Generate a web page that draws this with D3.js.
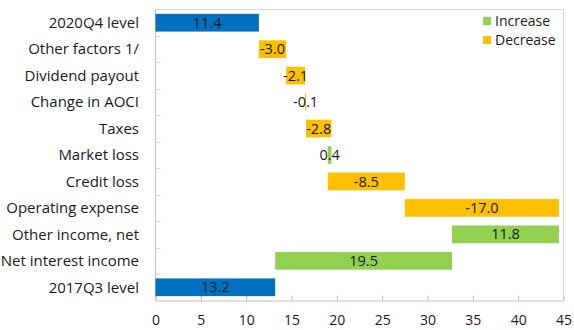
<!DOCTYPE html>
<html>
<head>
<meta charset="utf-8">
<script src="https://cdn.jsdelivr.net/npm/d3@7"></script>
<style>
  html, body { margin: 0; padding: 0; background: #fff; }
  svg { display: block; font-family: "Open Sans", "Noto Sans", sans-serif; }
</style>
</head>
<body>
<svg id="chart" width="574" height="330"></svg>
<script>
// Capital bridge, bottom row first
const categories = [
  "2017Q3 level", "Net interest income", "Other income, net", "Operating expense",
  "Credit loss", "Market loss", "Taxes", "Change in AOCI", "Dividend payout",
  "Other factors 1/", "2020Q4 level"
];
const changes = [13.2, 19.5, 11.8, -17.0, -8.5, 0.4, -2.8, -0.1, -2.1, -3.0, 11.4];
const isLevel = [true, false, false, false, false, false, false, false, false, false, true];
const xTicks = [0, 5, 10, 15, 20, 25, 30, 35, 40, 45];
const legendLabels = ["Increase", "Decrease"];

const colors = { level: "#0070C0", Increase: "#92D050", Decrease: "#FFC000" };

// Running total gives each bar's start and end
let running = 0;
const rows = categories.map((name, i) => {
  let x0, x1, kind;
  if (isLevel[i]) {
    x0 = 0; x1 = changes[i]; running = changes[i]; kind = "level";
  } else {
    x0 = running; x1 = running + changes[i]; running = x1;
    kind = changes[i] >= 0 ? "Increase" : "Decrease";
  }
  return { name, value: changes[i], x0, x1, kind };
});

const svg = d3.select("#chart");
const plot = { left: 155.5, right: 563.5, top: 9.5, bottom: 300.5 };

const x = d3.scaleLinear().domain([0, 45]).range([plot.left, plot.right]);
const y = d3.scaleBand()
  .domain(categories.slice().reverse())
  .range([plot.top, plot.bottom])
  .paddingInner(0.33)
  .paddingOuter(0.165);

// Frame on the top and right
svg.append("path")
  .attr("d", `M${plot.left},${plot.top}H${plot.right}V${plot.bottom}`)
  .attr("fill", "none").attr("stroke", "#d9d9d9");

// Bottom axis: ticks pointing into the plot, labels below
const xAxis = svg.append("g").attr("transform", `translate(0,${plot.bottom})`)
  .call(d3.axisBottom(x).tickValues(xTicks).tickSizeInner(-5).tickSizeOuter(0).tickPadding(15));
xAxis.select(".domain").attr("stroke", "#bfbfbf");
xAxis.selectAll(".tick line").attr("stroke", "#bfbfbf");
xAxis.selectAll(".tick text").attr("font-size", 14).attr("fill", "#1a1a1a")
  .attr("font-family", "'Open Sans', sans-serif");

// Left axis: category labels, ticks at band boundaries
svg.append("line")
  .attr("x1", plot.left).attr("x2", plot.left)
  .attr("y1", plot.top).attr("y2", plot.bottom)
  .attr("stroke", "#bfbfbf");
const step = y.step();
d3.range(1, categories.length).forEach(i => {
  const yy = Math.round(plot.top + i * step) + 0.5;
  svg.append("line")
    .attr("x1", plot.left).attr("x2", plot.left + 5)
    .attr("y1", yy).attr("y2", yy)
    .attr("stroke", "#d9d9d9");
});
svg.append("g").selectAll("text").data(categories).join("text")
  .attr("x", 139)
  .attr("y", d => y(d) + y.bandwidth() / 2)
  .attr("dy", "0.35em")
  .attr("text-anchor", "end")
  .attr("font-size", 15)
  .attr("fill", "#1a1a1a")
  .text(d => d);

// Bars
svg.append("g").selectAll("rect").data(rows).join("rect")
  .attr("x", d => x(Math.min(d.x0, d.x1)))
  .attr("y", d => y(d.name))
  .attr("width", d => Math.abs(x(d.x1) - x(d.x0)))
  .attr("height", y.bandwidth())
  .attr("fill", d => colors[d.kind]);

// Value labels centred on each bar
svg.append("g").selectAll("text").data(rows).join("text")
  .attr("x", d => x((d.x0 + d.x1) / 2))
  .attr("y", d => y(d.name) + y.bandwidth() / 2)
  .attr("dy", "0.35em")
  .attr("text-anchor", "middle")
  .attr("font-size", 14.5)
  .attr("fill", "#1a1a1a")
  .text(d => d3.format(".1f")(d.value).replace("−", "-"));

// Legend
const legend = svg.append("g").selectAll("g").data(legendLabels).join("g")
  .attr("transform", (d, i) => `translate(483,${17 + i * 19})`);
legend.append("rect").attr("width", 8).attr("height", 8).attr("fill", d => colors[d]);
legend.append("text").attr("x", 12).attr("y", 4).attr("dy", "0.35em")
  .attr("font-size", 14).attr("fill", "#1a1a1a").text(d => d);
</script>
</body>
</html>
